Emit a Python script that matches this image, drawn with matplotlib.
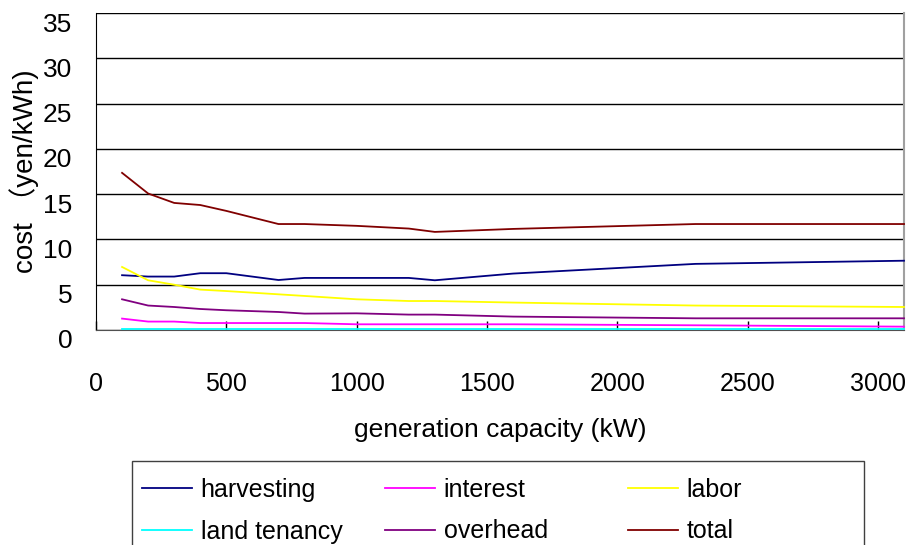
import matplotlib
matplotlib.use("Agg")
import matplotlib.pyplot as plt
from matplotlib.patches import Rectangle
from matplotlib.transforms import ScaledTranslation

plt.rcParams['font.family'] = ['Liberation Sans', 'Noto Sans CJK JP', 'DejaVu Sans']

# generation capacity (kW)
capacity = [100, 200, 300, 400, 500, 700, 800, 1000, 1200, 1300, 1600, 2300, 3100]

# cost components (yen/kWh)
harvesting = [6.05, 5.9, 5.9, 6.27, 6.27, 5.52, 5.75, 5.75, 5.75, 5.49, 6.23, 7.3, 7.65]
interest = [1.26, 0.93, 0.93, 0.77, 0.77, 0.77, 0.77, 0.63, 0.63, 0.63, 0.63, 0.52, 0.37]
labor = [6.96, 5.49, 5.0, 4.46, 4.3, 3.94, 3.76, 3.39, 3.2, 3.2, 3.03, 2.7, 2.54]
land_tenancy = [0.1, 0.1, 0.1, 0.1, 0.1, 0.1, 0.1, 0.1, 0.1, 0.1, 0.1, 0.1, 0.1]
overhead = [3.39, 2.7, 2.54, 2.32, 2.18, 1.99, 1.81, 1.84, 1.7, 1.7, 1.48, 1.29, 1.29]
total = [17.35, 15.07, 14.03, 13.8, 13.15, 11.7, 11.7, 11.5, 11.2, 10.83, 11.16, 11.7, 11.7]

series_names = ["harvesting", "interest", "labor", "land tenancy", "overhead", "total"]
series_values = [harvesting, interest, labor, land_tenancy, overhead, total]
series_colors = ["#000080", "#FF00FF", "#FFFF00", "#00FFFF", "#800080", "#800000"]

y_ticks = [0, 5, 10, 15, 20, 25, 30, 35]
x_ticks = [0, 500, 1000, 1500, 2000, 2500, 3000]

W, H = 909, 545
fig = plt.figure(figsize=(W / 100, H / 100), dpi=100)
ax = fig.add_axes([96 / W, 1 - 330 / H, (904 - 96) / W, (330 - 13) / H])

lines = []
for name, vals, col in zip(series_names, series_values, series_colors):
    ln, = ax.plot(capacity, vals, color=col, lw=1.3, label=name, zorder=3,
                  clip_on=False)
    lines.append(ln)

ax.set_xlim(0, 3100)
ax.set_ylim(0, 35)
ax.set_xticks(x_ticks)
ax.set_yticks(y_ticks)

ax.yaxis.grid(True, color='black', lw=1.0)
ax.set_axisbelow(True)

ax.spines['top'].set_visible(False)
ax.spines['left'].set_color('black')
ax.spines['bottom'].set_color('#505050')
ax.spines['right'].set_color('#a0a0a0')
ax.spines['right'].set_linewidth(1.5)

ax.tick_params(axis='x', direction='in', length=6.5, width=1, color='black',
               labelsize=18, pad=30)
ax.tick_params(axis='y', direction='in', length=0, labelsize=19, pad=17)

# tick labels sit a little below their gridlines
offset = ScaledTranslation(0, -9 / 100, fig.dpi_scale_trans)
for lbl in ax.get_yticklabels():
    lbl.set_transform(lbl.get_transform() + offset)

ax.set_xlabel("generation capacity (kW)", fontsize=19)
ax.xaxis.set_label_coords(0.5, (330 - 430) / 317)
ax.xaxis.label.set_va('center')

ax.set_ylabel("cost （yen/kWh)", fontsize=20)
ax.yaxis.set_label_coords((24 - 96) / 808, 0.5)
ax.yaxis.label.set_va('center')

# legend: three columns of two entries inside a single frame
col_x = [142, 385, 628]
for c in range(3):
    handles = [lines[c], lines[c + 3]]
    fig.legend(handles=handles, labels=[h.get_label() for h in handles],
               loc='upper left',
               bbox_to_anchor=(col_x[c] / W, 1 - 478 / H),
               bbox_transform=fig.transFigure,
               frameon=False, fontsize=18, borderpad=0, borderaxespad=0,
               handlelength=2.0, handletextpad=0.35, labelspacing=0.7)

fig.patches.append(Rectangle((132 / W, -0.2), (864 - 132) / W, (545 - 461) / H + 0.2,
                             transform=fig.transFigure, fill=False,
                             edgecolor='#404040', lw=1.0, zorder=1))

fig.savefig("out.png", dpi=100)
